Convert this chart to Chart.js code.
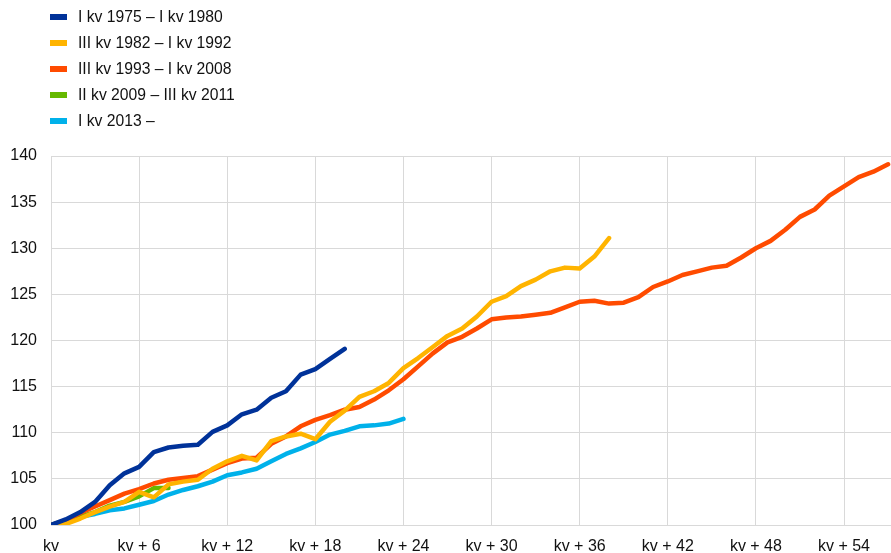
<!DOCTYPE html>
<html>
<head>
<meta charset="utf-8">
<script src="https://cdn.jsdelivr.net/npm/chart.js@4/dist/chart.umd.min.js"></script>
<style>
  body { margin: 0; background: #fff; }
  #wrap { position: relative; width: 891px; height: 553px; }
  #legend { position: absolute; left: 50px; top: 4px; font-family: "Liberation Sans", Arial, sans-serif; font-size: 15.7px; color: #111; }
  .row { height: 26.1px; display: flex; align-items: center; }
  .sw { width: 17px; height: 6px; margin-right: 11px; }
</style>
</head>
<body>
<div id="wrap">
  <canvas id="chart" width="891" height="553"></canvas>
  <div id="legend"></div>
</div>
<script>
//Data//
const seriesLabels = ["I kv 1975 \u2013 I kv 1980", "III kv 1982 \u2013 I kv 1992", "III kv 1993 \u2013 I kv 2008", "II kv 2009 \u2013 III kv 2011", "I kv 2013 \u2013"];

const blue1975 = [100, 100.6, 101.4, 102.5, 104.3, 105.6, 106.3, 107.9, 108.4, 108.6, 108.7, 110.1, 110.8, 112.0, 112.5, 113.8, 114.5, 116.3, 116.9, 118.0, 119.1];

const yellow1982 = [100, 100.1, 100.7, 101.4, 102.0, 102.5, 103.6, 103.0, 104.4, 104.7, 104.9, 106.1, 106.9, 107.5, 107.0, 109.1, 109.6, 109.9, 109.3, 111.2, 112.4, 113.9, 114.5, 115.4, 117.0, 118.1, 119.3, 120.5, 121.3, 122.6, 124.2, 124.8, 125.9, 126.6, 127.5, 127.9, 127.8, 129.1, 131.1];

const red1993 = [100, 100.5, 101.3, 102.0, 102.7, 103.4, 103.9, 104.5, 104.9, 105.1, 105.3, 106.0, 106.7, 107.2, 107.3, 108.8, 109.6, 110.7, 111.4, 111.9, 112.5, 112.8, 113.6, 114.6, 115.8, 117.2, 118.6, 119.8, 120.4, 121.3, 122.3, 122.5, 122.6, 122.8, 123.0, 123.6, 124.2, 124.3, 124.0, 124.1, 124.7, 125.8, 126.4, 127.1, 127.5, 127.9, 128.1, 129.0, 130.0, 130.8, 132.0, 133.4, 134.2, 135.7, 136.7, 137.7, 138.3, 139.1];

const green2009 = [100, 100.5, 100.9, 101.4, 102.1, 102.5, 103.1, 104.0, 104.0];

const lightBlue2013 = [100, 100.5, 100.9, 101.2, 101.6, 101.8, 102.2, 102.6, 103.3, 103.8, 104.2, 104.7, 105.4, 105.7, 106.1, 106.9, 107.7, 108.3, 109.0, 109.8, 110.2, 110.7, 110.8, 111.0, 111.5];

const colors = ["#003299", "#FFB400", "#FF4B00", "#65B800", "#00B1EA"];
//Akhir Data//

function toPoints(values) {
  return values.map((v, i) => ({ x: i, y: v }));
}

const allSeries = [blue1975, yellow1982, red1993, green2009, lightBlue2013];

const data = {
  datasets: allSeries.map((values, k) => ({
    label: seriesLabels[k],
    data: toPoints(values),
    borderColor: colors[k],
    backgroundColor: colors[k],
    borderWidth: 4.5,
    pointRadius: 0,
    borderCapStyle: "round",
    borderJoinStyle: "round",
    fill: false,
    tension: 0,
  })),
};

const tickFont = { family: "'Liberation Sans', Arial, sans-serif", size: 16 };

const config = {
  type: "line",
  data: data,
  options: {
    responsive: false,
    animation: false,
    layout: { padding: { top: 156, right: 0, bottom: 0, left: 0 } },
    plugins: {
      legend: { display: false },
      tooltip: { enabled: false },
    },
    scales: {
      x: {
        type: "linear",
        min: 0,
        max: 57.2,
        border: { display: false },
        grid: { color: "#d9d9d9", drawTicks: false },
        ticks: {
          stepSize: 6,
          includeBounds: false,
          padding: 12,
          color: "#111",
          font: tickFont,
          maxRotation: 0,
          callback: (v) => (v === 0 ? "kv" : "kv + " + v),
        },
        afterFit: (scale) => { scale.height = 28; },
      },
      y: {
        min: 100,
        max: 140,
        border: { display: false },
        grid: { color: "#d9d9d9", drawTicks: false },
        ticks: { stepSize: 5, padding: 14, color: "#111", font: tickFont },
        afterFit: (scale) => { scale.width = 51; },
      },
    },
  },
};

const myChart = new Chart(document.getElementById("chart").getContext("2d"), config);

//Legend//
const legend = document.getElementById("legend");
seriesLabels.forEach((label, k) => {
  const row = document.createElement("div");
  row.className = "row";
  const sw = document.createElement("span");
  sw.className = "sw";
  sw.style.background = colors[k];
  const txt = document.createElement("span");
  txt.textContent = label;
  row.appendChild(sw);
  row.appendChild(txt);
  legend.appendChild(row);
});
</script>
</body>
</html>
